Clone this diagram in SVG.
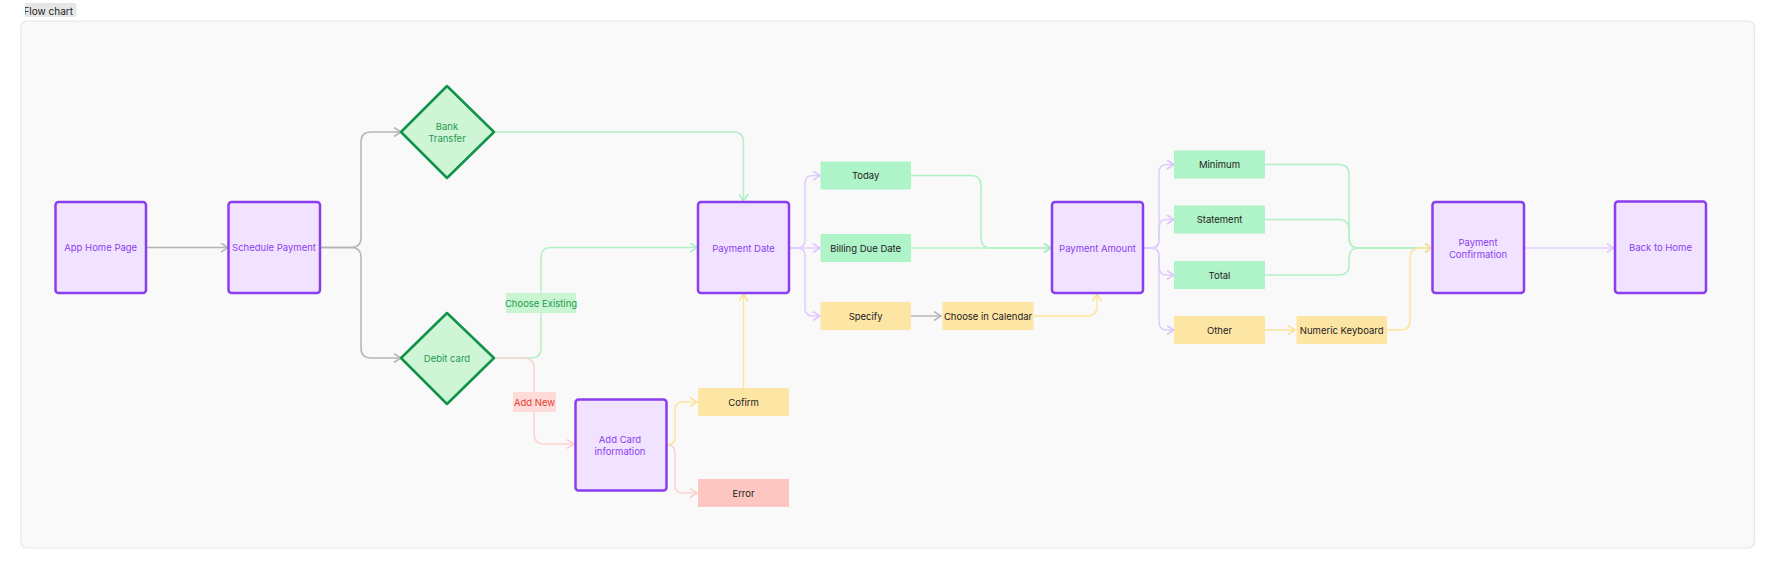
<svg xmlns="http://www.w3.org/2000/svg" width="1776" height="570" viewBox="0 0 1776 570">
<style>
text{font-family:Inter,"Liberation Sans",sans-serif;font-size:9.5px;text-anchor:middle;dominant-baseline:central}
.p rect{fill:#f1e3ff;stroke:#8b3df0;stroke-width:2.5}
.p text{fill:#8b3df0}
.d polygon{fill:#cef5d6;stroke:#12924a;stroke-width:2.5;stroke-linejoin:round}
.d text{fill:#1f9a50}
.g rect{fill:#aff3c8}
.y rect{fill:#fde5a4}
.r rect{fill:#fdc6c1}
.g text,.y text,.r text{fill:#222}
#conn path{fill:none;stroke-width:1.5}
.cg{stroke:#b4b4b4}.cgr{stroke:#b2f0c6}.cp{stroke:#e2ccff}.cy{stroke:#fde59c}.cr{stroke:#fdd3cf}
</style>
<defs>
<marker id="ag" viewBox="0 0 10 10" refX="9" refY="5" markerWidth="10" markerHeight="10" markerUnits="userSpaceOnUse" orient="auto"><path d="M2,0.5L9,5L2,9.5" fill="none" stroke="#b4b4b4" stroke-width="1.5"/></marker>
<marker id="agr" viewBox="0 0 10 10" refX="9" refY="5" markerWidth="10" markerHeight="10" markerUnits="userSpaceOnUse" orient="auto"><path d="M2,0.5L9,5L2,9.5" fill="none" stroke="#a6eebe" stroke-width="1.5"/></marker>
<marker id="ap" viewBox="0 0 10 10" refX="9" refY="5" markerWidth="10" markerHeight="10" markerUnits="userSpaceOnUse" orient="auto"><path d="M2,0.5L9,5L2,9.5" fill="none" stroke="#dcc4ff" stroke-width="1.5"/></marker>
<marker id="ay" viewBox="0 0 10 10" refX="9" refY="5" markerWidth="10" markerHeight="10" markerUnits="userSpaceOnUse" orient="auto"><path d="M2,0.5L9,5L2,9.5" fill="none" stroke="#fde094" stroke-width="1.5"/></marker>
<marker id="ar" viewBox="0 0 10 10" refX="9" refY="5" markerWidth="10" markerHeight="10" markerUnits="userSpaceOnUse" orient="auto"><path d="M2,0.5L9,5L2,9.5" fill="none" stroke="#fdccc6" stroke-width="1.5"/></marker>
<clipPath id="tabclip"><rect x="25" y="2" width="52" height="16"/></clipPath>
</defs>
<rect width="1776" height="570" fill="#fff"/>
<rect x="21" y="21" width="1733.5" height="527" rx="6" fill="#f9f9f9" stroke="#e6e6e6" stroke-width="1.2"/>
<g clip-path="url(#tabclip)">
<rect x="18" y="3" width="58.5" height="14" rx="3" fill="#e6e6e6"/>
<text x="73" y="10.5" style="text-anchor:end;font-size:10px;fill:#222">Flow chart</text>
</g>
<g id="conn">
<path class="cg" d="M146,247.6H228" marker-end="url(#ag)"/>
<path class="cg" d="M320,247.6H351Q361,247.6 361,237.6V142Q361,132 371,132H401" marker-end="url(#ag)"/>
<path class="cg" d="M320,247.6H351Q361,247.6 361,257.6V348Q361,358 371,358H401" marker-end="url(#ag)"/>
<path class="cgr" d="M494,132H733.5Q743.5,132 743.5,142V201" marker-end="url(#agr)"/>
<path class="cgr" d="M494,358H531Q541,358 541,348V257.6Q541,247.6 551,247.6H697" marker-end="url(#agr)"/>
<path class="cr" d="M494,358H524Q534,358 534,368V434Q534,444 544,444H574" marker-end="url(#ar)"/>
<path class="cy" d="M667,445Q675,445 675,437V410Q675,402 683,402H697" marker-end="url(#ay)"/>
<path class="cr" d="M667,445Q675,445 675,453V485Q675,493 683,493H697" marker-end="url(#ar)"/>
<path class="cy" d="M743.5,388V294" marker-end="url(#ay)"/>
<path class="cp" d="M789,248H797Q805,248 805,240V183.6Q805,175.6 813,175.6H820" marker-end="url(#ap)"/>
<path class="cp" d="M789,248H820" marker-end="url(#ap)"/>
<path class="cp" d="M789,248H797Q805,248 805,256V308Q805,316 813,316H820" marker-end="url(#ap)"/>
<path class="cgr" d="M911,175.6H971Q981,175.6 981,185.6V238Q981,248 991,248H1051" marker-end="url(#agr)"/>
<path class="cgr" d="M911,248H1051" marker-end="url(#agr)"/>
<path class="cg" d="M911,316H941" marker-end="url(#ag)"/>
<path class="cy" d="M1034,316H1087Q1097,316 1097,306V294" marker-end="url(#ay)"/>
<path class="cp" d="M1143,248H1151Q1159,248 1159,240V172.5Q1159,164.5 1167,164.5H1174" marker-end="url(#ap)"/>
<path class="cp" d="M1143,248H1151Q1159,248 1159,240V227.5Q1159,219.5 1167,219.5H1174" marker-end="url(#ap)"/>
<path class="cp" d="M1143,248H1151Q1159,248 1159,256V267Q1159,275 1167,275H1174" marker-end="url(#ap)"/>
<path class="cp" d="M1143,248H1151Q1159,248 1159,256V322Q1159,330 1167,330H1174" marker-end="url(#ap)"/>
<path class="cgr" d="M1265,164.5H1339Q1349,164.5 1349,174.5V238Q1349,248 1359,248H1432" marker-end="url(#agr)"/>
<path class="cgr" d="M1265,219.5H1339Q1349,219.5 1349,229.5V238Q1349,248 1359,248H1432"/>
<path class="cgr" d="M1265,275H1339Q1349,275 1349,265V258Q1349,248 1359,248H1432"/>
<path class="cy" d="M1265,330H1295" marker-end="url(#ay)"/>
<path class="cy" d="M1387,330H1400Q1410,330 1410,320V258Q1410,248 1420,248H1432" marker-end="url(#ay)"/>
<path class="cp" d="M1524,248H1614" marker-end="url(#ap)"/>
</g>
<g id="n-home" class="p"><rect x="55.5" y="202" width="90.5" height="91" rx="3"/><text x="100.7" y="247.6">App Home Page</text></g>
<g id="n-schedule" class="p"><rect x="228.5" y="202" width="91.5" height="91" rx="3"/><text x="274" y="247.6">Schedule Payment</text></g>
<g id="n-bank" class="d"><polygon points="447,86 494,132 447,178 401,132"/><text x="447" y="126">Bank</text><text x="447" y="138.5">Transfer</text></g>
<g id="n-debit" class="d"><polygon points="447,313 494,358 447,404 401,358"/><text x="447" y="358">Debit card</text></g>
<g id="l-existing"><rect x="506" y="293" width="70" height="20" fill="#c9f5d3"/><text x="541" y="303.5" fill="#1f9a50">Choose Existing</text></g>
<g id="l-addnew"><rect x="513" y="392" width="43" height="20" fill="#ffdcd9"/><text x="534.5" y="402" fill="#e53b2f">Add New</text></g>
<g id="n-addcard" class="p"><rect x="575.5" y="399.5" width="91" height="91" rx="3"/><text x="620" y="439">Add Card</text><text x="620" y="451.5">information</text></g>
<g id="n-cofirm" class="y"><rect x="698" y="388" width="91" height="28"/><text x="743.5" y="402">Cofirm</text></g>
<g id="n-error" class="r"><rect x="698" y="479" width="91" height="28"/><text x="743.5" y="493">Error</text></g>
<g id="n-paydate" class="p"><rect x="698" y="202" width="91" height="91" rx="3"/><text x="743.5" y="248">Payment Date</text></g>
<g id="n-today" class="g"><rect x="820.5" y="161.5" width="90.5" height="28"/><text x="865.7" y="175.6">Today</text></g>
<g id="n-billing" class="g"><rect x="820.5" y="234" width="90.5" height="28"/><text x="865.7" y="248">Billing Due Date</text></g>
<g id="n-specify" class="y"><rect x="820.5" y="302" width="90.5" height="28"/><text x="865.7" y="316">Specify</text></g>
<g id="n-calendar" class="y"><rect x="942.5" y="302" width="91" height="28"/><text x="988" y="316">Choose in Calendar</text></g>
<g id="n-amount" class="p"><rect x="1052" y="202" width="91" height="91" rx="3"/><text x="1097.5" y="248">Payment Amount</text></g>
<g id="n-min" class="g"><rect x="1174" y="150.5" width="91" height="28"/><text x="1219.5" y="164.5">Minimum</text></g>
<g id="n-stmt" class="g"><rect x="1174" y="205.5" width="91" height="28"/><text x="1219.5" y="219.5">Statement</text></g>
<g id="n-total" class="g"><rect x="1174" y="261" width="91" height="28"/><text x="1219.5" y="275">Total</text></g>
<g id="n-other" class="y"><rect x="1174" y="316" width="91" height="28"/><text x="1219.5" y="330">Other</text></g>
<g id="n-numeric" class="y"><rect x="1296.5" y="316" width="90.5" height="28"/><text x="1341.7" y="330">Numeric Keyboard</text></g>
<g id="n-confirm" class="p"><rect x="1432.5" y="202" width="91.5" height="91" rx="3"/><text x="1478" y="242">Payment</text><text x="1478" y="254">Confirmation</text></g>
<g id="n-back" class="p"><rect x="1615" y="201.5" width="91" height="91.5" rx="3"/><text x="1660.5" y="247.6">Back to Home</text></g>
</svg>
